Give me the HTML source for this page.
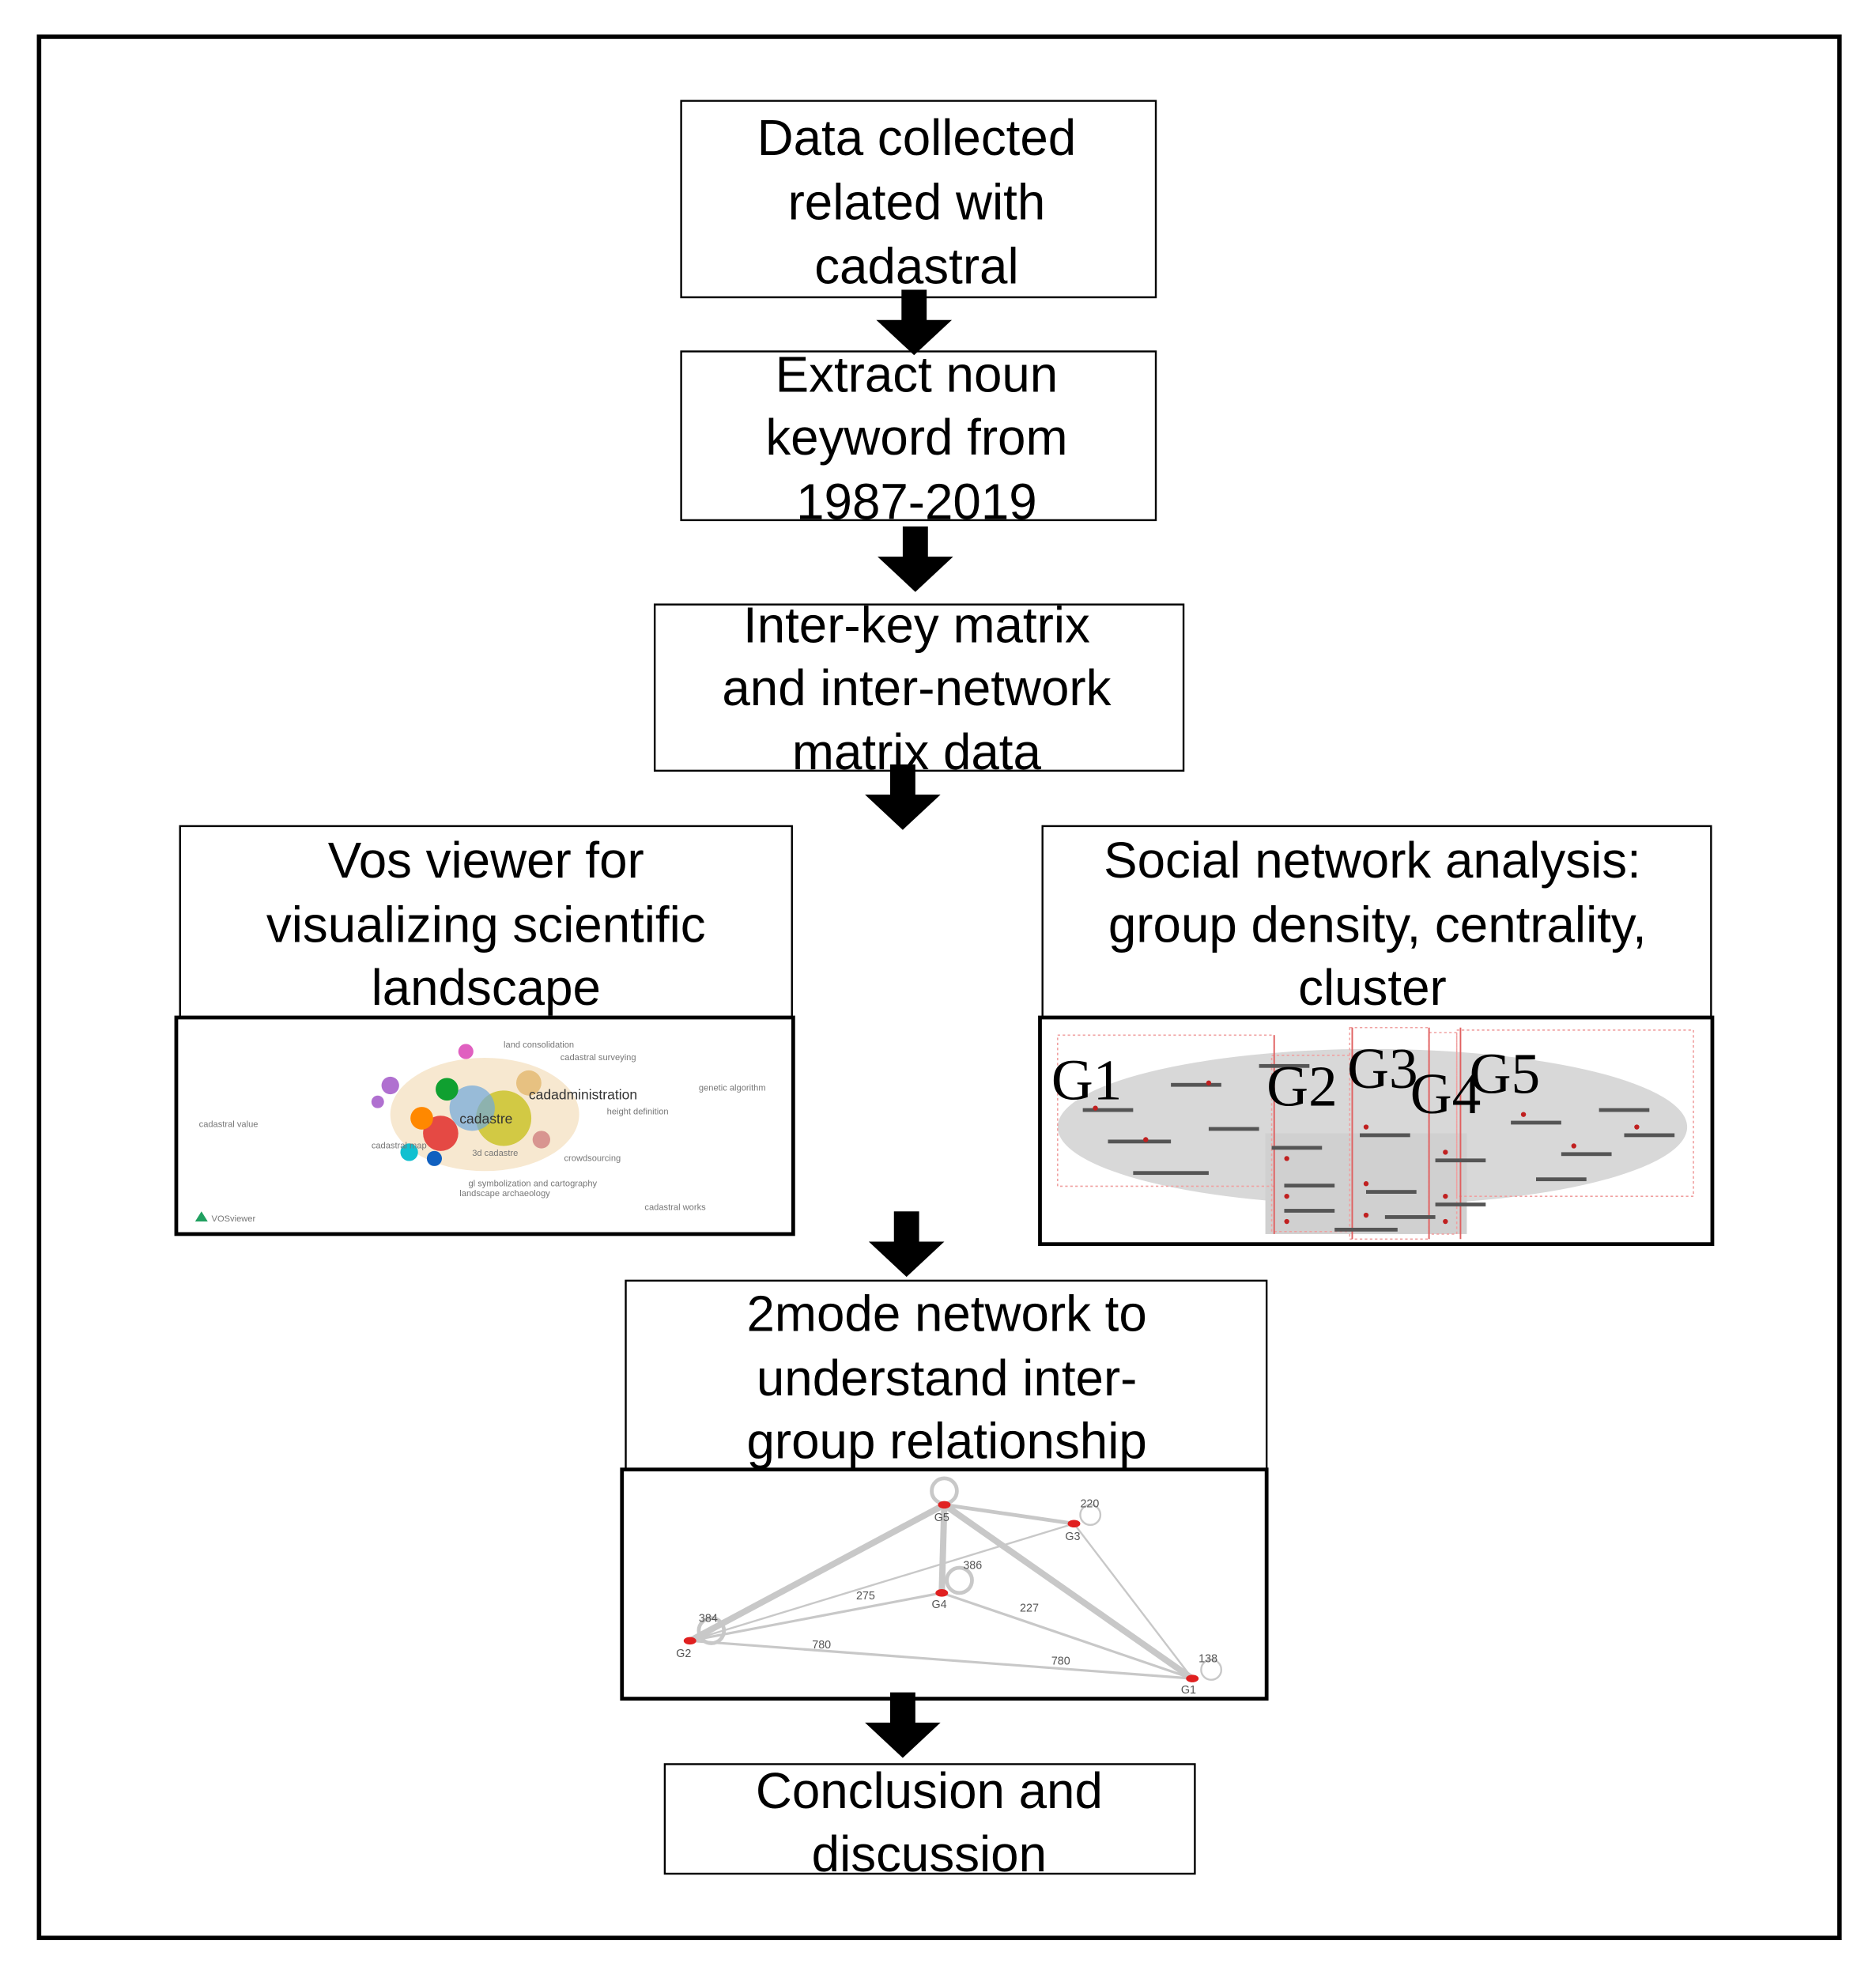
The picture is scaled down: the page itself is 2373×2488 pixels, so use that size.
<!DOCTYPE html>
<html><head><meta charset="utf-8"><style>
html,body{margin:0;padding:0;background:#fff;}
svg{display:block;}
.t{font-family:"Liberation Sans",sans-serif;font-size:40px;fill:#000;text-anchor:middle;}
.g{font-family:"Liberation Serif",serif;font-size:46px;fill:#000;}
.s{font-family:"Liberation Sans",sans-serif;font-size:7px;fill:#777;}
</style></head><body>
<svg width="2373" height="2488" viewBox="0 0 1490 1562" xmlns="http://www.w3.org/2000/svg">
<rect x="0" y="0" width="1490" height="1562" fill="#fff"/>
<rect x="31" y="29" width="1430" height="1510" fill="none" stroke="#000" stroke-width="3.5"/>
<defs>
<g id="arr"><rect x="-10" y="0" width="20" height="28" fill="#000"/><polygon points="-30,24 30,24 0,52" fill="#000"/></g>
</defs>
<!-- box1 -->
<rect x="541" y="80" width="377" height="156" fill="#fff" stroke="#000" stroke-width="1.5"/>
<text class="t" x="728" y="123">Data collected</text>
<text class="t" x="728" y="174">related with</text>
<text class="t" x="728" y="225">cadastral</text>
<use href="#arr" x="726" y="230"/>
<!-- box2 -->
<rect x="541" y="279" width="377" height="134" fill="none" stroke="#000" stroke-width="1.5"/>
<text class="t" x="728" y="311">Extract noun</text>
<text class="t" x="728" y="361">keyword from</text>
<text class="t" x="728" y="412">1987-2019</text>
<use href="#arr" x="727" y="418"/>
<!-- box3 -->
<rect x="520" y="480" width="420" height="132" fill="none" stroke="#000" stroke-width="1.5"/>
<text class="t" x="728" y="510">Inter-key matrix</text>
<text class="t" x="728" y="560">and inter-network</text>
<text class="t" x="728" y="611">matrix data</text>
<use href="#arr" x="717" y="607"/>
<!-- Vos -->
<rect x="143" y="656" width="486" height="152" fill="none" stroke="#000" stroke-width="1.5"/>
<text class="t" x="386" y="697">Vos viewer for</text>
<text class="t" x="386" y="748">visualizing scientific</text>
<text class="t" x="386" y="798">landscape</text>
<rect x="140" y="808" width="490" height="172" fill="#fff" stroke="#000" stroke-width="3"/>
<g>
<ellipse cx="385" cy="885" rx="75" ry="45" fill="#f2d9b0" opacity="0.6"/>
<circle cx="400" cy="888" r="22" fill="#c8c020" opacity="0.8"/>
<circle cx="375" cy="880" r="18" fill="#6fa8dc" opacity="0.7"/>
<circle cx="350" cy="900" r="14" fill="#e02020" opacity="0.8"/>
<circle cx="335" cy="888" r="9" fill="#ff8800"/>
<circle cx="355" cy="865" r="9" fill="#10a030"/>
<circle cx="310" cy="862" r="7" fill="#b070d0"/>
<circle cx="300" cy="875" r="5" fill="#b070d0"/>
<circle cx="370" cy="835" r="6" fill="#e060c0"/>
<circle cx="325" cy="915" r="7" fill="#10c0d0"/>
<circle cx="345" cy="920" r="6" fill="#1060c0"/>
<circle cx="420" cy="860" r="10" fill="#e0b060" opacity="0.7"/>
<circle cx="430" cy="905" r="7" fill="#d08080" opacity="0.8"/>
<text class="s" x="420" y="873" style="font-size:11px;fill:#333">cadadministration</text>
<text class="s" x="365" y="892" style="font-size:11px;fill:#333">cadastre</text>
<text class="s" x="295" y="912">cadastral map</text>
<text class="s" x="375" y="918">3d cadastre</text>
<text class="s" x="158" y="895">cadastral value</text>
<text class="s" x="555" y="866">genetic algorithm</text>
<text class="s" x="445" y="842">cadastral surveying</text>
<text class="s" x="400" y="832">land consolidation</text>
<text class="s" x="482" y="885">height definition</text>
<text class="s" x="372" y="942">gl symbolization and cartography</text>
<text class="s" x="365" y="950">landscape archaeology</text>
<text class="s" x="512" y="961">cadastral works</text>
<text class="s" x="448" y="922">crowdsourcing</text>
<polygon points="155,970 160,962 165,970" fill="#20a060"/>
<text class="s" x="168" y="970">VOSviewer</text>
</g>
<!-- SNA -->
<rect x="828" y="656" width="531" height="152" fill="none" stroke="#000" stroke-width="1.5"/>
<text class="t" x="1090" y="697">Social network analysis:</text>
<text class="t" x="1094" y="748">group density, centrality,</text>
<text class="t" x="1090" y="798">cluster</text>
<rect x="826" y="808" width="534" height="180" fill="#fff" stroke="#000" stroke-width="3"/>
<g>
<ellipse cx="1090" cy="895" rx="250" ry="62" fill="#d8d8d8"/>
<rect x="1005" y="900" width="160" height="80" fill="#d0d0d0"/>
<g fill="none" stroke="#f0a0a0" stroke-width="1" stroke-dasharray="2,2">
<rect x="840" y="822" width="172" height="120"/>
<rect x="1010" y="838" width="62" height="140"/>
<rect x="1072" y="816" width="63" height="168"/>
<rect x="1135" y="820" width="22" height="160"/>
<rect x="1157" y="818" width="188" height="132"/>
</g>
<g stroke="#e06060" stroke-width="1.2">
<line x1="1012" y1="822" x2="1012" y2="980"/><line x1="1074" y1="816" x2="1074" y2="984"/>
<line x1="1135" y1="816" x2="1135" y2="984"/><line x1="1160" y1="816" x2="1160" y2="984"/>
</g>
<g fill="#555">
<rect x="860" y="880" width="40" height="3"/><rect x="880" y="905" width="50" height="3"/><rect x="900" y="930" width="60" height="3"/>
<rect x="930" y="860" width="40" height="3"/><rect x="960" y="895" width="40" height="3"/><rect x="1010" y="910" width="40" height="3"/>
<rect x="1020" y="940" width="40" height="3"/><rect x="1020" y="960" width="40" height="3"/><rect x="1080" y="900" width="40" height="3"/>
<rect x="1085" y="945" width="40" height="3"/><rect x="1140" y="920" width="40" height="3"/><rect x="1140" y="955" width="40" height="3"/>
<rect x="1200" y="890" width="40" height="3"/><rect x="1240" y="915" width="40" height="3"/><rect x="1270" y="880" width="40" height="3"/>
<rect x="1290" y="900" width="40" height="3"/><rect x="1220" y="935" width="40" height="3"/><rect x="1000" y="845" width="40" height="3"/>
<rect x="1100" y="965" width="40" height="3"/><rect x="1060" y="975" width="50" height="3"/>
</g>
<g fill="#c02020">
<circle cx="870" cy="880" r="2"/><circle cx="910" cy="905" r="2"/><circle cx="960" cy="860" r="2"/><circle cx="1022" cy="920" r="2"/>
<circle cx="1022" cy="950" r="2"/><circle cx="1085" cy="895" r="2"/><circle cx="1085" cy="940" r="2"/><circle cx="1148" cy="915" r="2"/>
<circle cx="1148" cy="950" r="2"/><circle cx="1210" cy="885" r="2"/><circle cx="1250" cy="910" r="2"/><circle cx="1300" cy="895" r="2"/>
<circle cx="1148" cy="970" r="2"/><circle cx="1085" cy="965" r="2"/><circle cx="1022" cy="970" r="2"/>
</g>
<text class="g" x="835" y="873">G1</text>
<text class="g" x="1006" y="878">G2</text>
<text class="g" x="1070" y="864">G3</text>
<text class="g" x="1120" y="884">G4</text>
<text class="g" x="1167" y="868">G5</text>
</g>
<use href="#arr" x="720" y="962"/>
<!-- 2mode -->
<rect x="497" y="1017" width="509" height="150" fill="none" stroke="#000" stroke-width="1.5"/>
<text class="t" x="752" y="1057">2mode network to</text>
<text class="t" x="752" y="1108">understand inter-</text>
<text class="t" x="752" y="1158">group relationship</text>
<rect x="494" y="1167" width="512" height="182" fill="#fff" stroke="#000" stroke-width="3"/>
<g stroke="#c8c8c8" fill="none">
<line x1="750" y1="1195" x2="548" y2="1303" stroke-width="5"/>
<line x1="750" y1="1195" x2="947" y2="1333" stroke-width="5"/>
<line x1="750" y1="1195" x2="748" y2="1265" stroke-width="5"/>
<line x1="750" y1="1195" x2="853" y2="1210" stroke-width="3"/>
<line x1="853" y1="1210" x2="947" y2="1333" stroke-width="1.5"/>
<line x1="853" y1="1210" x2="548" y2="1303" stroke-width="1.5"/>
<line x1="748" y1="1265" x2="548" y2="1303" stroke-width="2"/>
<line x1="748" y1="1265" x2="947" y2="1333" stroke-width="2"/>
<line x1="548" y1="1303" x2="947" y2="1333" stroke-width="2"/>
<circle cx="750" cy="1184" r="10" stroke-width="3"/>
<circle cx="762" cy="1255" r="10" stroke-width="3"/>
<circle cx="565" cy="1295" r="10" stroke-width="3"/>
<circle cx="866" cy="1203" r="8" stroke-width="1.5"/>
<circle cx="962" cy="1326" r="8" stroke-width="1.5"/>
</g>
<g fill="#e02020">
<ellipse cx="750" cy="1195" rx="5" ry="3"/><ellipse cx="853" cy="1210" rx="5" ry="3"/>
<ellipse cx="748" cy="1265" rx="5" ry="3"/><ellipse cx="548" cy="1303" rx="5" ry="3"/><ellipse cx="947" cy="1333" rx="5" ry="3"/>
</g>
<g class="s" style="font-size:9px;fill:#555">
<text x="742" y="1208">G5</text><text x="846" y="1223">G3</text><text x="740" y="1277">G4</text>
<text x="537" y="1316">G2</text><text x="938" y="1345">G1</text>
<text x="858" y="1197">220</text><text x="952" y="1320">138</text>
<text x="555" y="1288">384</text><text x="645" y="1309">780</text><text x="835" y="1322">780</text>
<text x="765" y="1246">386</text><text x="680" y="1270">275</text><text x="810" y="1280">227</text>
</g>
<use href="#arr" x="717" y="1344"/>
<!-- conclusion -->
<rect x="528" y="1401" width="421" height="87" fill="none" stroke="#000" stroke-width="1.5"/>
<text class="t" x="738" y="1436">Conclusion and</text>
<text class="t" x="738" y="1486">discussion</text>
</svg>
</body></html>
